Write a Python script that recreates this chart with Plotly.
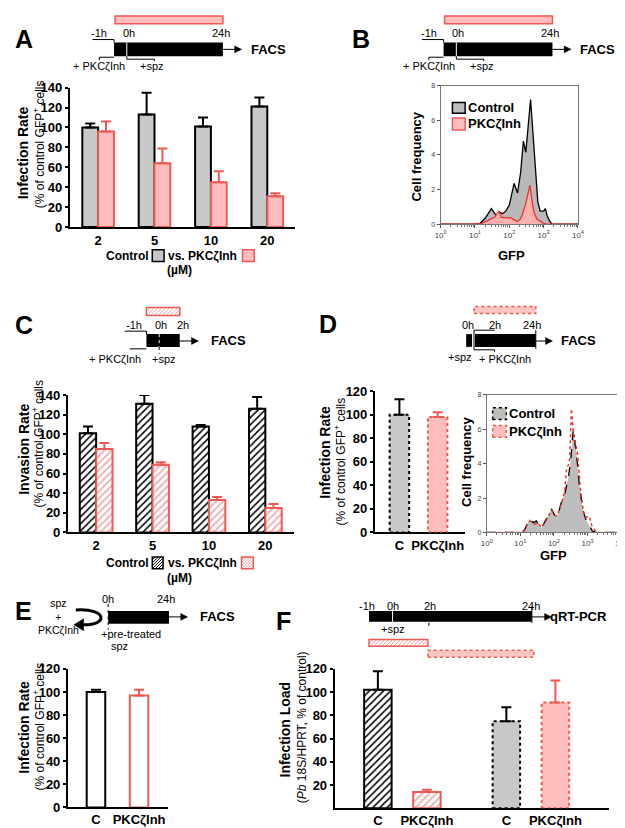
import plotly.graph_objects as go

W, H = 625, 828
FONT = "Liberation Sans, Arial, sans-serif"
RED = "#ef5a55"
PINK = "#ffbdbd"
GRAY = "#c8c8c8"
HPINK = "#f5a0a0"

# ---------------- DATA ----------------
conc_labels = ["2", "5", "10", "20"]
# Panel A (infection rate, % of control)
a_control = [100, 113, 101, 121]
a_control_err = [4, 22, 9, 9]
a_inh = [96, 64, 45, 31]
a_inh_err = [10, 15, 11, 3]
# Panel C (invasion rate)
c_control = [101, 131, 108, 126]
c_control_err = [7, 9, 1.5, 12]
c_inh = [85, 69, 33, 25]
c_inh_err = [6, 2.5, 3, 4]
# Panel D (post-invasion treatment)
d_labels = ["C", "PKCζInh"]
d_values = [100, 98]
d_err = [13, 4]
# Panel E (pre-treated sporozoites)
e_labels = ["C", "PKCζInh"]
e_values = [100, 97]
e_err = [2, 5]
# Panel F (infection load)
f_labels = ["C", "PKCζInh", "C", "PKCζInh"]
f_group = [0, 0, 1, 1]
f_values = [102, 14, 75, 91]
f_err = [16, 2, 12, 19]
# Panel B histograms (GFP intensity vs cell frequency)
b_ctrl_gfp = [1, 10, 14, 20, 30, 37, 45, 51, 63, 79, 100, 138, 174, 214, 257, 302, 355, 417,
              479, 537, 603, 676, 794, 1000, 1122, 1259, 1479, 1738, 10000]
b_ctrl_freq = [0, 0, 0.05, 0.35, 0.9, 0.65, 0.4, 0.7, 0.6, 0.75, 1.1, 2.35, 1.8, 3.0, 4.8, 4.15, 5.5, 7.2,
               5.5, 4.15, 2.5, 1.3, 0.75, 0.75, 0.9, 0.5, 0.2, 0, 0]
b_inh_gfp = [1, 10, 16, 24, 32, 37, 50, 58, 79, 112, 141, 174, 209, 240, 302, 355, 398, 447, 513,
             631, 794, 1000, 1259, 10000]
b_inh_freq = [0, 0, 0.05, 0.22, 0.3, 0.4, 0.75, 0.4, 0.38, 0.36, 0.25, 0.15, 0.3, 0.57, 1.2, 1.9, 2.25,
              1.5, 0.75, 0.3, 0.15, 0.05, 0, 0]
# Panel D histograms
d_ctrl_gfp = [1, 10, 13, 16, 19, 24, 30, 42, 58, 85, 105, 126, 174, 214, 269, 316, 372, 468, 575, 724,
              891, 1122, 1380, 1738, 10000]
d_ctrl_freq = [0, 0, 0.1, 0.5, 0.8, 0.57, 0.67, 0.23, 0.76, 1.37, 1.0, 0.9, 1.9, 2.3, 3.2, 4.2, 5.9, 4.6,
               2.7, 1.33, 0.76, 0.4, 0.1, 0, 0]
d_inh_gfp = [1, 10, 13, 15, 19, 27, 33, 42, 58, 85, 105, 126, 174, 209, 240, 269, 295, 331, 372, 417,
             501, 646, 759, 891, 1122, 1380, 1950, 10000]
d_inh_freq = [0, 0, 0.1, 0.38, 0.67, 0.48, 0.55, 0.29, 0.67, 1.3, 1.0, 0.95, 1.8, 2.4, 3.8, 3.9, 4.3, 7.2,
              6.0, 5.5, 4.6, 2.1, 1.2, 0.86, 0.95, 0.3, 0, 0]

# ---------------- helpers ----------------
shapes, annos = [], []


def P(x, y):
    return f"{x / W:.5f},{1 - y / H:.5f}"


def s_rect(x0, y0, x1, y1, fill="rgba(0,0,0,0)", lc="black", lw=1, dash="solid"):
    shapes.append(dict(type="rect", xref="paper", yref="paper", x0=x0 / W, x1=x1 / W,
                       y0=1 - y1 / H, y1=1 - y0 / H, fillcolor=fill,
                       line=dict(color=lc, width=lw, dash=dash), layer="above"))


def s_line(x0, y0, x1, y1, lc="black", lw=1, dash="solid"):
    shapes.append(dict(type="line", xref="paper", yref="paper", x0=x0 / W, x1=x1 / W,
                       y0=1 - y0 / H, y1=1 - y1 / H, line=dict(color=lc, width=lw, dash=dash),
                       layer="above"))


def s_path(pts, lc="black", lw=1, fill=None, close=False):
    d = "M " + " L ".join(P(x, y) for x, y in pts) + (" Z" if close else "")
    sh = dict(type="path", xref="paper", yref="paper", path=d, line=dict(color=lc, width=lw), layer="above")
    if fill:
        sh["fillcolor"] = fill
    shapes.append(sh)


def s_arrow(x0, x1, y):
    s_line(x0, y, x1 - 5, y, lw=1)
    s_path([(x1, y), (x1 - 7, y - 3.5), (x1 - 7, y + 3.5)], lc="black", lw=0.5, fill="black", close=True)


def s_hatch(x0, y0, x1, y1, hc, border, lw=1.5, step=4):
    s_rect(x0, y0, x1, y1, fill="white", lc="white", lw=0)
    h = y1 - y0
    s = x0 - h
    while s < x1:
        t0 = max(0.0, (x0 - s) / h)
        t1 = min(1.0, (x1 - s) / h)
        if t1 > t0:
            s_line(s + t0 * h, y1 - t0 * h, s + t1 * h, y1 - t1 * h, lc=hc, lw=1)
        s += step
    s_rect(x0, y0, x1, y1, lc=border, lw=lw)


def txt(x, y, s, size=11, bold=False, anchor="center", angle=0, color="black"):
    annos.append(dict(x=x / W, y=1 - y / H, xref="paper", yref="paper", text=s, showarrow=False,
                      font=dict(family=FONT, size=size, color=color, weight="bold" if bold else "normal"),
                      xanchor=anchor, yanchor="middle", textangle=angle, borderpad=0))


def xdom(a, b):
    return [a / W, b / W]


def ydom(top, bot):
    return [1 - bot / H, 1 - top / H]


def bar(xa, ya, x, y, err, fill, lc, lw, width, offset, ecolor, pattern=None):
    marker = dict(color=fill, line=dict(color=lc, width=lw))
    if pattern:
        marker["pattern"] = pattern
    return go.Bar(x=x, y=y, xaxis=xa, yaxis=ya, width=width, offset=offset, marker=marker,
                  error_y=dict(type="data", symmetric=False, array=err, arrayminus=[0] * len(err),
                               color=ecolor, thickness=2, width=5))


fig = go.Figure()

HATCH_K = dict(shape="/", fgcolor="black", bgcolor="white", size=5, solidity=0.3, fillmode="replace")
HATCH_P = dict(shape="/", fgcolor=HPINK, bgcolor="white", size=5, solidity=0.3, fillmode="replace")

# Panel A bars
fig.add_trace(bar("x", "y", conc_labels, a_control, a_control_err, GRAY, "black", 2, 0.28, -0.28, "black"))
fig.add_trace(bar("x", "y", conc_labels, a_inh, a_inh_err, PINK, RED, 2, 0.28, 0.0, RED))
# Panel C bars
fig.add_trace(bar("x3", "y3", conc_labels, c_control, c_control_err, "white", "black", 2, 0.29, -0.29,
                  "black", HATCH_K))
fig.add_trace(bar("x3", "y3", conc_labels, c_inh, c_inh_err, "white", RED, 2, 0.29, 0.0, RED, HATCH_P))
# Panel D bars (dotted outlines added as shapes)
DW = 0.51
fig.add_trace(bar("x4", "y4", d_labels[:1], d_values[:1], d_err[:1], GRAY, GRAY, 0, DW, -DW / 2, "black"))
fig.add_trace(bar("x4", "y4", d_labels[1:], d_values[1:], d_err[1:], PINK, PINK, 0, DW, -DW / 2, RED))
for i, (v, c) in enumerate(zip(d_values, ["black", RED])):
    shapes.append(dict(type="rect", xref="x4", yref="y4", x0=i - DW / 2, x1=i + DW / 2, y0=0, y1=v,
                       line=dict(color=c, width=2, dash="dot"), layer="above"))
# Panel E bars
EW = 0.43
fig.add_trace(bar("x6", "y6", e_labels[:1], e_values[:1], e_err[:1], "white", "black", 2, EW, -EW / 2, "black"))
fig.add_trace(bar("x6", "y6", e_labels[1:], e_values[1:], e_err[1:], "white", RED, 2, EW, -EW / 2, RED))
# Panel F bars
FW = 0.56
f_pos = [i + 0.62 * g for i, g in enumerate(f_group)]
fig.add_trace(bar("x7", "y7", [f_pos[0]], [f_values[0]], [f_err[0]], "white", "black", 2, FW, -FW / 2,
                  "black", HATCH_K))
fig.add_trace(bar("x7", "y7", [f_pos[1]], [f_values[1]], [f_err[1]], "white", RED, 2, FW, -FW / 2, RED, HATCH_P))
fig.add_trace(bar("x7", "y7", [f_pos[2]], [f_values[2]], [f_err[2]], GRAY, GRAY, 0, FW, -FW / 2, "black"))
fig.add_trace(bar("x7", "y7", [f_pos[3]], [f_values[3]], [f_err[3]], PINK, PINK, 0, FW, -FW / 2, RED))
for k, c in [(2, "black"), (3, RED)]:
    shapes.append(dict(type="rect", xref="x7", yref="y7", x0=f_pos[k] - FW / 2, x1=f_pos[k] + FW / 2,
                       y0=0, y1=f_values[k], line=dict(color=c, width=2, dash="dot"), layer="above"))

# Histograms
fig.add_trace(go.Scatter(x=b_ctrl_gfp, y=b_ctrl_freq, xaxis="x2", yaxis="y2", mode="lines", fill="tozeroy",
                         fillcolor="#b9b9b9", line=dict(color="black", width=1.3), hoverinfo="skip"))
fig.add_trace(go.Scatter(x=b_inh_gfp, y=b_inh_freq, xaxis="x2", yaxis="y2", mode="lines", fill="tozeroy",
                         fillcolor="#ffb0b0", line=dict(color="#e8322c", width=1.3), hoverinfo="skip"))
fig.add_trace(go.Scatter(x=d_ctrl_gfp, y=d_ctrl_freq, xaxis="x5", yaxis="y5", mode="lines", fill="tozeroy",
                         fillcolor="#bdbdbd", line=dict(color="black", width=1.3, dash="dash"), hoverinfo="skip"))
fig.add_trace(go.Scatter(x=d_inh_gfp, y=d_inh_freq, xaxis="x5", yaxis="y5", mode="lines",
                         line=dict(color="#e8322c", width=1.5, dash="dot"), hoverinfo="skip"))

# ---------------- axes ----------------
TF = dict(family=FONT, size=13, color="black", weight="bold")


def bar_yaxis(dom, rng, tv, anchor):
    return dict(domain=dom, range=rng, tickvals=tv, ticks="outside", ticklen=3, tickwidth=1.5,
                tickcolor="black", showline=True, linewidth=2, linecolor="black", showgrid=False,
                zeroline=False, tickfont=TF, anchor=anchor, fixedrange=True)


def bar_xaxis(dom, rng, anchor, cat=True, tv=None, tt=None, standoff=None):
    d = dict(domain=dom, range=rng, showline=True, linewidth=2, linecolor="black", ticks="",
             showgrid=False, zeroline=False, tickfont=TF, anchor=anchor, fixedrange=True)
    if cat:
        d["type"] = "category"
    if tv is not None:
        d["tickvals"] = tv
        d["ticktext"] = tt
    if standoff is not None:
        d["ticklabelstandoff"] = standoff
    return d


def hist_axes(xd, yd, anchor_x, anchor_y):
    xa = dict(domain=xd, type="log", range=[0, 4], tickvals=[1, 10, 100, 1000, 10000],
              ticktext=["10<sup>0</sup>", "10<sup>1</sup>", "10<sup>2</sup>", "10<sup>3</sup>", "10<sup>4</sup>"],
              tickfont=dict(family=FONT, size=8, color="#444"), ticks="outside", ticklen=3,
              tickcolor="#555", showline=True, mirror=True, linecolor="#777", linewidth=1,
              showgrid=False, zeroline=False, anchor=anchor_y, fixedrange=True,
              minor=dict(ticks="outside", ticklen=2, tickcolor="#777", dtick="D1"))
    ya = dict(domain=yd, range=[0, 8], tickvals=[0, 2, 4, 6, 8], tickfont=dict(family=FONT, size=7, color="#444"),
              ticks="outside", ticklen=3, tickcolor="#555", showline=True, mirror=True, linecolor="#777",
              linewidth=1, showgrid=False, zeroline=False, anchor=anchor_x, fixedrange=True)
    return xa, ya


t140 = [0, 20, 40, 60, 80, 100, 120, 140]
t120 = [0, 20, 40, 60, 80, 100, 120]
bx2, by2 = hist_axes(xdom(435, 575), ydom(72, 213), "x2", "y2")
bx5, by5 = hist_axes(xdom(482, 619), ydom(387, 527), "x5", "y5")

fig.update_layout(
    width=W, height=H, margin=dict(l=0, r=0, t=0, b=0), paper_bgcolor="white", plot_bgcolor="white",
    showlegend=False, barmode="overlay",
    xaxis=bar_xaxis(xdom(57, 287), [-0.5, 3.5], "y"),
    yaxis=bar_yaxis(ydom(74, 216), [0, 140], t140, "x"),
    xaxis2=bx2, yaxis2=by2,
    xaxis3=bar_xaxis(xdom(55, 285), [-0.5, 3.5], "y3"),
    yaxis3=bar_yaxis(ydom(387, 527), [0, 140], t140, "x3"),
    xaxis4=bar_xaxis(xdom(368, 460), [-0.64, 1.72], "y4"),
    yaxis4=bar_yaxis(ydom(383, 527), [0, 120], t120, "x4"),
    xaxis5=bx5, yaxis5=by5,
    xaxis6=bar_xaxis(xdom(55, 157), [-0.65, 1.67], "y6", standoff=-1),
    yaxis6=bar_yaxis(ydom(666, 807), [0, 120], t120, "x6"),
    xaxis7=bar_xaxis(xdom(327, 607), [-0.88, 4.72], "y7", cat=False, tv=f_pos, tt=f_labels, standoff=-1),
    yaxis7=bar_yaxis(ydom(666, 808), [0, 120], [20, 40, 60, 80, 100, 120], "x7"),
)

# ---------------- panel letters ----------------
for L, x, y in [("A", 10, 24), ("B", 354, 24), ("C", 10, 316), ("D", 320, 315), ("E", 10, 607), ("F", 275, 617)]:
    txt(x, y, L, size=25, bold=True)

# ---------------- y titles ----------------
SUB = "(% of control GFP<sup>+</sup> cells"
txt(10, 140, "Infection Rate", 14, True, angle=-90)
txt(25, 132, SUB, 12, angle=-90)
txt(10, 442, "Invasion Rate", 14, True, angle=-90)
txt(25, 437, SUB, 12, angle=-90)
txt(317, 445, "Infection Rate", 14, True, angle=-90)
txt(332, 455, SUB, 12, angle=-90)
txt(10, 725, "Infection Rate", 14, True, angle=-90)
txt(25, 725, SUB, 12, angle=-90)
txt(276, 728, "Infection Load", 14, True, angle=-90)
txt(293, 725, "(<i>Pb</i> 18S/HPRT, % of control)", 12, angle=-90)
txt(410, 144, "Cell frequency", 13, True, angle=-90)
txt(462, 455, "Cell frequency", 13, True, angle=-90)
txt(507, 245, "GFP", 13, True)
txt(550, 550, "GFP", 13, True)

# ---------------- legends under A and C ----------------
for yy, hatched in [(245, False), (558, True)]:
    txt(139, yy, "Control", 12, True, anchor="right")
    if hatched:
        s_hatch(141, yy - 6, 152, yy + 6, "black", "black", lw=1.5, step=3)
        s_hatch(232, yy - 6, 244, yy + 6, HPINK, RED, lw=1.5, step=3)
    else:
        s_rect(141, yy - 6, 153, yy + 6, fill=GRAY, lc="black", lw=1.5)
        s_rect(233, yy - 6, 245, yy + 6, fill=PINK, lc=RED, lw=1.5)
    txt(156, yy, "vs. PKCζInh", 12, True, anchor="left")
    txt(169, yy + 15, "(µM)", 12, True)

# ---------------- histogram legends ----------------
s_rect(447, 89, 460, 100, fill="#bdbdbd", lc="black", lw=1.5)
txt(462, 94, "Control", 13, True, anchor="left")
s_rect(447, 105, 460, 117, fill=PINK, lc=RED, lw=1.5)
txt(462, 111, "PKCζInh", 13, True, anchor="left")
s_rect(488, 400, 502, 412, fill="#bdbdbd", lc="black", lw=1.5, dash="dot")
txt(504, 406, "Control", 13, True, anchor="left")
s_rect(488, 418, 502, 430, fill=PINK, lc=RED, lw=1.5, dash="dot")
txt(504, 424, "PKCζInh", 13, True, anchor="left")

# ---------------- timelines A & B ----------------
for dx in (0, 336):
    s_rect(103 + dx, 1, 213 + dx, 9, fill=PINK, lc=RED, lw=1.5)
    s_rect(102 + dx, 28, 213 + dx, 42, fill="black", lc="black", lw=0)
    s_line(115 + dx, 28, 115 + dx, 42, lc="white", lw=1)
    s_path([(80 + dx, 25), (102 + dx, 25), (102 + dx, 28)])
    s_path([(87 + dx, 46), (87 + dx, 43), (102 + dx, 43)])
    s_path([(115 + dx, 42), (115 + dx, 45), (143 + dx, 45), (143 + dx, 47)])
    s_arrow(213 + dx, 232 + dx, 35)
    txt(87 + dx, 18, "-1h")
    txt(117 + dx, 18, "0h")
    txt(211 + dx, 18, "24h")
    txt(259 + dx, 35, "FACS", 13, True)
    txt(87 + dx, 52, "+ PKCζInh")
    txt(141 + dx, 52, "+spz")

# ---------------- timeline C ----------------
s_hatch(135, 298, 169, 306, HPINK, RED)
s_rect(135, 325, 169, 338, fill="black", lc="black", lw=0)
s_line(148, 325, 148, 338, lc="white", lw=1, dash="dot")
s_line(148, 338, 148, 345, lw=1, dash="dot")
s_path([(113, 322), (135, 322), (135, 325)])
s_path([(118, 340), (135, 340)])
s_arrow(169, 188, 332)
txt(122, 316, "-1h")
txt(150, 316, "0h")
txt(172, 316, "2h")
txt(219, 332, "FACS", 13, True)
txt(103, 350, "+ PKCζInh")
txt(153, 350, "+spz")

# ---------------- timeline D ----------------
s_rect(469, 297, 532, 304, fill="#ffc4c4", lc=RED, lw=1.5, dash="dot")
s_rect(461, 325, 467, 338, fill="black", lc="black", lw=0)
s_rect(470, 325, 532, 338, fill="black", lc="black", lw=0)
s_path([(490, 321), (469, 321), (469, 341), (490, 341), (490, 343)])
s_line(532, 321, 532, 340, lw=1)
s_arrow(532, 549, 332)
txt(463, 316, "0h")
txt(490, 316, "2h")
txt(528, 316, "24h")
txt(576, 332, "FACS", 13, True)
txt(455, 348, "+spz")
txt(501, 350, "+ PKCζInh")

# ---------------- timeline E ----------------
txt(45, 613, "spz<br>+<br>PKCζInh", 10.5)
shapes.append(dict(type="path", xref="paper", yref="paper",
                   path=f"M {P(63, 606)} C {P(96, 604)} {P(96, 622)} {P(70, 621)}",
                   line=dict(color="black", width=3), layer="above"))
s_path([(61, 621), (71, 615), (71, 627)], lw=0.5, fill="black", close=True)
s_line(96, 600, 96, 626, lw=1, dash="dot")
s_rect(96, 607, 158, 620, fill="black", lc="black", lw=0)
s_arrow(158, 177, 613)
txt(96, 595, "0h")
txt(155, 595, "24h")
txt(207, 613, "FACS", 13, True)
txt(119, 630, "+pre-treated")
txt(108, 643, "spz")

# ---------------- timeline F ----------------
s_rect(362, 607, 528, 618, fill="black", lc="black", lw=0)
s_line(386, 607, 386, 618, lc="white", lw=1)
s_line(423, 619, 423, 624, lw=1, dash="dot")
s_line(528, 602, 528, 619, lw=1)
s_arrow(528, 548, 613)
txt(360, 602, "-1h")
txt(386, 602, "0h")
txt(424, 602, "2h")
txt(527, 602, "24h")
txt(576, 613, "qRT-PCR", 13, True)
txt(386, 625, "+spz")
s_hatch(362, 636, 422, 643, HPINK, RED)
s_rect(422, 647, 530, 654, fill="#ffc4c4", lc=RED, lw=1.5, dash="dot")

fig.update_layout(shapes=shapes, annotations=annos)
fig.write_html("out.html")
